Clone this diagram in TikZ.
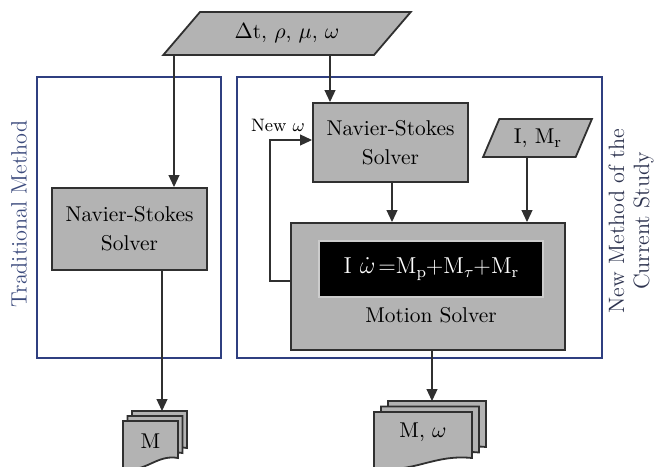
\documentclass[tikz,border=0pt]{standalone}
\usetikzlibrary{arrows.meta,positioning,shapes.geometric}

\definecolor{boxgray}{HTML}{B3B3B3}
\definecolor{edgegray}{HTML}{303030}
\definecolor{frameblue}{HTML}{2F3F80}
\definecolor{labelblue}{HTML}{3B4A7C}
\definecolor{labeldark}{HTML}{2E3450}

\newcommand\lowsub[1]{\raisebox{-0.45ex}{\footnotesize #1}}
% stack of three sheets: name, x, y, width, height, dx, dy, text
\newcommand\docstack[8]{%
  \foreach \k in {2,1,0}
    \filldraw[sheet, shift={({#2+\k*#6},{#3-\k*#7})}]
      (0,0) -- (#4,0) -- (#4,{#5-8})
      .. controls ({0.6*#4},{#5-12}) and ({0.4*#4},{#5+8}) .. (0,{#5+2}) -- cycle;
  \coordinate (#1) at ({#2+2*#6},{#3-2*#7});
  \node[textfont, inner sep=0pt] (#1-text) at ({#2+0.5*#4},{#3+20}) {#8};
}

\begin{document}
\begin{tikzpicture}[x=0.5pt, y=-0.5pt,
    textfont/.style={font=\fontsize{10.7}{14.5}\selectfont},
    solver/.style={draw=edgegray, line width=1pt, fill=boxgray, align=center, inner sep=0pt, textfont},
    datanode/.style={trapezium, trapezium stretches=true, draw=edgegray, line width=0.9pt, fill=boxgray, inner sep=0pt, textfont},
    methodframe/.style={draw=frameblue, line width=0.8pt, inner sep=0pt},
    sheet/.style={draw=edgegray, line width=0.9pt, fill=boxgray},
    link/.style={-{Triangle[length=6pt, width=5.5pt]}, line width=0.6pt, draw=edgegray}
]
\useasboundingbox (0,0) rectangle (656,466);

% the two method frames
\node[methodframe, minimum width=92pt, minimum height=140.5pt] (tradframe) at (129,217.5) {};
\node[methodframe, minimum width=182.5pt, minimum height=140.5pt] (newframe) at (419.5,217.5) {};
\node[rotate=90, text=labelblue, font=\fontsize{11.1}{12.5}\selectfont] (tradlabel) at (19,214) {Traditional Method};
\node[rotate=90, align=center, text=labeldark, font=\fontsize{11.1}{12.5}\selectfont] (newlabel) at (631,221) {New Method of the\\Current Study};

% inputs
\node[datanode, trapezium left angle=41, trapezium right angle=139, minimum width=124pt, minimum height=21.5pt] (input) at (287,33.5) {$\Delta$t, $\rho$, $\mu$, $\omega$};
\node[datanode, trapezium left angle=62, trapezium right angle=118, minimum width=54.5pt, minimum height=19pt] (inertia) at (537.5,138) {I, M\lowsub{r}};

% solvers
\node[solver, minimum width=77.5pt, minimum height=41pt] (leftns) at (129.5,229) {Navier-Stokes\\Solver};
\node[solver, minimum width=77.5pt, minimum height=39.5pt] (rightns) at (390.5,142.5) {Navier-Stokes\\Solver};
\node[solver, minimum width=137pt, minimum height=63.5pt] (motion) at (428,286.5) {};
\node[fill=black, draw=gray!40, line width=0.6pt, text=white, minimum width=112pt, minimum height=28pt, font=\fontsize{11.5}{14}\selectfont] (eqn) at (431,269) {I\kern4pt$\dot{\omega}$\kern1.5pt=M\lowsub{p}+M\lowsub{$\tau$}+M\lowsub{r}};
\node[textfont, below=1.5pt of eqn] (motionlabel) {Motion Solver};
\node[font=\fontsize{9}{11}\selectfont, inner sep=0pt] (newomega) at (278,125) {New $\omega$};

% outputs
\docstack{leftdocs}{123}{421}{55}{45}{4.5}{5}{M}
\docstack{rightdocs}{374}{412}{98}{54}{7}{5.5}{M, $\omega$}

% connectors
\draw[link] (174,0 |- input.south) -- (174,0 |- leftns.north);
\draw[link] (330,0 |- input.south) -- (330,0 |- rightns.north);
\draw[link] (162,0 |- leftns.south) -- (162,0 |- leftdocs);
\draw[link] (392,0 |- rightns.south) -- (392,0 |- motion.north);
\draw[link] (527,0 |- inertia.south) -- (527,0 |- motion.north);
\draw[link] (432,0 |- motion.south) -- (432,0 |- rightdocs);
\draw[link] ([yshift=2.75pt]motion.west) -- ++(-20,0) |- ([yshift=1.25pt]rightns.west);
\end{tikzpicture}
\end{document}
